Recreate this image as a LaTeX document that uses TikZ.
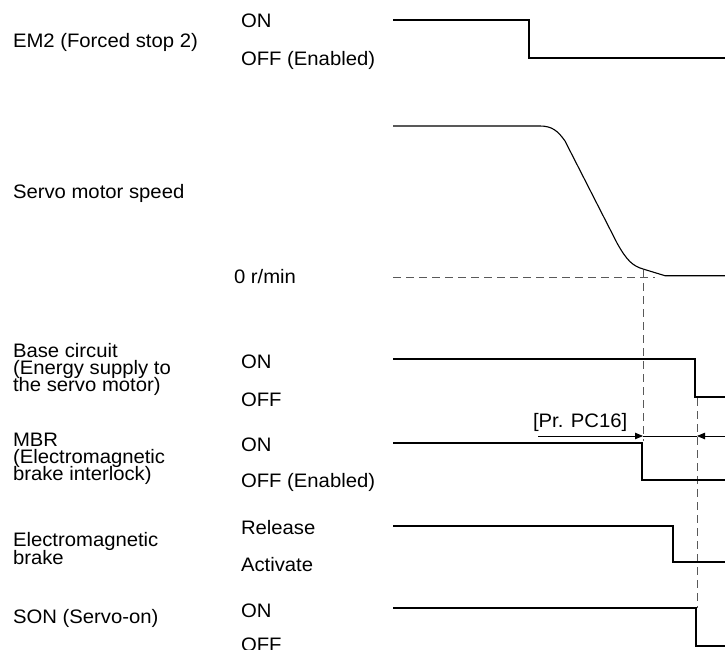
\documentclass[tikz,border=0pt]{standalone}
\usepackage{fontspec}
\setmainfont{Liberation Sans}[FakeStretch=1.04]
\usetikzlibrary{arrows.meta}
\begin{document}
\begin{tikzpicture}[x=1pt,y=-1pt,
  every node/.style={inner sep=0pt, outer sep=0pt, font=\fontsize{19.5}{21}\selectfont},
  lbl/.style={anchor=base west},
  sig/.style={line width=1.1pt, black, line join=miter},
  guide/.style={line width=0.9pt, black!65, dash pattern=on 8pt off 5pt},
  tipr/.style={-{Triangle[length=8pt,width=6.5pt]}},
  thin/.style={line width=0.8pt, black}]
\useasboundingbox (0,0) rectangle (725,650);

% labels
\node[lbl] (em2) at (13,48) {EM2 (Forced stop 2)};
\node[lbl] (em2on) at (241,28) {ON};
\node[lbl] (em2off) at (241,66) {OFF (Enabled)};
\node[lbl] (spd) at (13,198) {Servo motor speed};
\node[lbl] (zero) at (234,283) {0 r/min};
\node[lbl] (bc1) at (13,357) {Base circuit};
\node[lbl] (bc2) at (13,374) {(Energy supply to};
\node[lbl] (bc3) at (13,391) {the servo motor)};
\node[lbl] (bcon) at (241,368) {ON};
\node[lbl] (bcoff) at (241,406) {OFF};
\node[lbl] (mbr1) at (13,446) {MBR};
\node[lbl] (mbr2) at (13,463) {(Electromagnetic};
\node[lbl] (mbr3) at (13,480) {brake interlock)};
\node[lbl] (mbron) at (241,451) {ON};
\node[lbl] (mbroff) at (241,487) {OFF (Enabled)};
\node[lbl] (eb1) at (13,546) {Electromagnetic};
\node[lbl] (eb2) at (13,564) {brake};
\node[lbl] (ebrel) at (241,534) {Release};
\node[lbl] (ebact) at (241,571) {Activate};
\node[lbl] (son) at (13,623) {SON (Servo-on)};
\node[lbl] (sonon) at (241,617) {ON};
\node[lbl] (sonoff) at (241,651) {OFF};
\node[lbl] (pc16) at (533,427) {[Pr. PC16]};

% guides
\draw[guide] (393,277.5) -- (655,277.5);
\coordinate (g1t) at (643,270);
\coordinate (g1b) at (643,441);
\coordinate (g2t) at (697,398);
\coordinate (g2b) at (697,608);
\draw[guide] (g1t) -- (g1b);
\draw[guide] (g2t) -- (g2b);

% signals
\draw[sig] (393,20) -- (529,20) -- (529,58) -- (725,58);
\draw[sig] (393,126) -- (540,126)
  .. controls (552,126) and (558,131) .. (565,141)
  -- (617,243)
  .. controls (627,261) and (633,266) .. (643,269)
  -- (665,275.7) -- (725,275.7);
\draw[sig] (393,359) -- (695,359) -- (695,397) -- (725,397);
\draw[sig] (393,443) -- (642,443) -- (642,480) -- (725,480);
\draw[sig] (393,526) -- (673,526) -- (673,562) -- (725,562);
\draw[sig] (393,608) -- (696,608) -- (696,646) -- (725,646);

% time interval arrows
\coordinate (a1) at (538,436);
\coordinate (m1) at (643,436);
\coordinate (m2) at (697,436);
\coordinate (a2) at (725,436);
\draw[thin,tipr] (a1) -- (m1);
\draw[thin] (m1) -- (m2);
\draw[thin,tipr] (a2) -- (m2);
\end{tikzpicture}
\end{document}
